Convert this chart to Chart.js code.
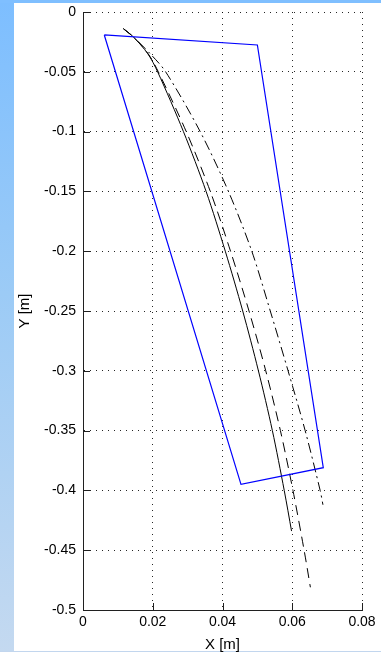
<!DOCTYPE html>
<html>
<head>
<meta charset="utf-8">
<script src="https://cdn.jsdelivr.net/npm/chart.js@4/dist/chart.umd.min.js"></script>
<style>
  html, body { margin: 0; padding: 0; background: #ffffff; }
  #wrap { position: relative; width: 381px; height: 655px; overflow: hidden; background: #ffffff; }
  #leftStrip { position: absolute; left: 0; top: 0; width: 14px; height: 652px;
    background: linear-gradient(to bottom, #7dbeff 0%, #9ccbf6 45%, #c4d9f0 100%); }
  #topStrip { position: absolute; left: 0; top: 0; width: 381px; height: 3px; background: #7fbfff; }
  #bottomLine { position: absolute; left: 0; top: 651px; width: 381px; height: 1px; background: #c2d6ee; }
  canvas { position: absolute; left: 0; top: 0; display: block; }
</style>
</head>
<body>
<div id="wrap">
  <div id="leftStrip"></div>
  <div id="topStrip"></div>
  <div id="bottomLine"></div>
  <canvas id="c" width="381" height="655"></canvas>
</div>
<script>
// ---- Data ----
const xTickValues = [0, 0.02, 0.04, 0.06, 0.08];
const xTickLabels = ['0', '0.02', '0.04', '0.06', '0.08'];
const yTickValues = [0, -0.05, -0.1, -0.15, -0.2, -0.25, -0.3, -0.35, -0.4, -0.45, -0.5];
const yTickLabels = ['0', '-0.05', '-0.1', '-0.15', '-0.2', '-0.25', '-0.3', '-0.35', '-0.4', '-0.45', '-0.5'];

// blue quadrilateral (closed)
const polyX = [0.0061, 0.0500, 0.0689, 0.0453, 0.0061];
const polyY = [-0.0192, -0.0276, -0.381, -0.395, -0.0192];

// solid black curve
const solidX = [0.0116, 0.0145, 0.0186, 0.0214, 0.0288, 0.0353, 0.0408, 0.0458, 0.0503, 0.0543, 0.0577, 0.0598];
const solidY = [-0.014, -0.021, -0.035, -0.05, -0.1, -0.15, -0.2, -0.25, -0.3, -0.35, -0.4, -0.434];

// dashed black curve
const dashX = [0.0116, 0.0145, 0.0187, 0.0216, 0.0296, 0.0365, 0.0423, 0.0476, 0.0524, 0.0566, 0.0602, 0.0634, 0.0652];
const dashY = [-0.014, -0.021, -0.035, -0.05, -0.1, -0.15, -0.2, -0.25, -0.3, -0.35, -0.4, -0.45, -0.481];

// dash-dot black curve
const dashDotX = [0.0116, 0.0145, 0.0193, 0.0237, 0.0336, 0.0417, 0.0484, 0.0537, 0.0588, 0.0637, 0.0680, 0.0688];
const dashDotY = [-0.014, -0.021, -0.035, -0.05, -0.1, -0.15, -0.2, -0.25, -0.3, -0.35, -0.4, -0.412];

const xTitle = 'X [m]';
const yTitle = 'Y [m]';

// ---- Build chart ----
const toPts = (xs, ys) => xs.map((x, i) => ({ x: x, y: ys[i] }));

const innerTicks = {
  id: 'innerTicks',
  afterDatasetsDraw(chart) {
    const { ctx, chartArea: a, scales: { x, y } } = chart;
    ctx.save();
    ctx.strokeStyle = '#202020';
    ctx.lineWidth = 1;
    ctx.setLineDash([]);
    ctx.beginPath();
    xTickValues.forEach(v => {
      const px = Math.round(x.getPixelForValue(v)) + 0.5;
      ctx.moveTo(px, a.bottom);
      ctx.lineTo(px, a.bottom - 7);
    });
    yTickValues.forEach(v => {
      const py = Math.round(y.getPixelForValue(v)) + 0.5;
      ctx.moveTo(a.left, py);
      ctx.lineTo(a.left + 7, py);
    });
    ctx.stroke();
    ctx.restore();
  }
};

Chart.defaults.font.family = '"Liberation Sans", Arial, sans-serif';
Chart.defaults.font.size = 14;
Chart.defaults.color = '#000000';

new Chart(document.getElementById('c'), {
  type: 'scatter',
  data: {
    datasets: [
      { data: toPts(polyX, polyY), showLine: true, borderColor: '#0000ff', borderWidth: 1.2,
        pointRadius: 0, fill: false, tension: 0 },
      { data: toPts(solidX, solidY), showLine: true, borderColor: '#000000', borderWidth: 1,
        pointRadius: 0, fill: false, tension: 0.3 },
      { data: toPts(dashX, dashY), showLine: true, borderColor: '#000000', borderWidth: 1,
        borderDash: [10, 6], pointRadius: 0, fill: false, tension: 0.3 },
      { data: toPts(dashDotX, dashDotY), showLine: true, borderColor: '#000000', borderWidth: 1,
        borderDash: [10, 4, 2, 4], pointRadius: 0, fill: false, tension: 0.3 }
    ]
  },
  options: {
    responsive: false,
    animation: false,
    events: [],
    layout: { padding: { left: 0, right: 19, top: 12, bottom: 0 } },
    plugins: { legend: { display: false }, tooltip: { enabled: false } },
    scales: {
      x: {
        type: 'linear', min: 0, max: 0.08,
        afterBuildTicks: s => { s.ticks = xTickValues.map(v => ({ value: v })); },
        afterFit: s => { s.height = 45; s.paddingLeft = 0; s.paddingRight = 0; },
        ticks: { callback: (v, i) => xTickLabels[i], padding: 4, maxRotation: 0, autoSkip: false },
        grid: { color: 'rgba(0,0,0,0.85)', lineWidth: 1, drawTicks: false },
        border: { display: true, color: '#202020', width: 1, dash: [1, 5] },
        title: { display: true, text: xTitle, font: { size: 15 }, padding: { top: 0, bottom: 1 } }
      },
      y: {
        type: 'linear', min: -0.5, max: 0,
        afterBuildTicks: s => { s.ticks = yTickValues.map(v => ({ value: v })); },
        afterFit: s => { s.width = 83; s.paddingTop = 0; s.paddingBottom = 0; },
        ticks: { callback: (v, i) => yTickLabels[i], padding: 7, autoSkip: false },
        grid: { color: 'rgba(0,0,0,0.85)', lineWidth: 1, drawTicks: false },
        border: { display: true, color: '#202020', width: 1, dash: [1, 5] },
        title: { display: true, text: yTitle, font: { size: 15 }, padding: { top: 16, bottom: 0 } }
      }
    }
  },
  plugins: [innerTicks]
});
</script>
</body>
</html>
